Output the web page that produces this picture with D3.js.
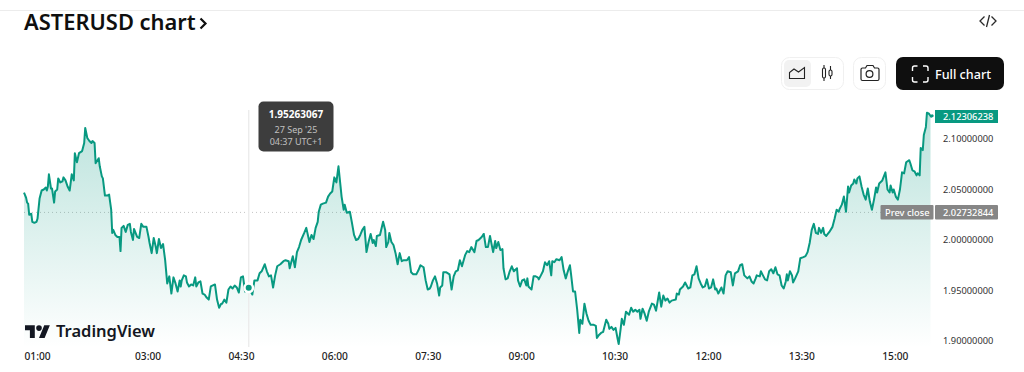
<!DOCTYPE html>
<html>
<head>
<meta charset="utf-8">
<script src="https://cdn.jsdelivr.net/npm/d3@7/dist/d3.min.js"></script>
<style>
html,body{margin:0;padding:0;background:#fff;overflow:hidden}
svg{display:block;font-family:"Noto Sans",sans-serif}
</style>
</head>
<body>
<svg id="c" width="1024" height="372"></svg>
<script>
const minutes = [0,2,3,4,5,7,8,10,12,13,15,17,19,21,22,23,24,26,27,29,30,32,33,35,37,38,40,42,44,46,48,49,51,53,56,58,59,61,63,65,66,68,69,72,73,75,76,78,80,82,84,85,86,88,90,92,93,94,96,98,100,102,103,105,106,109,111,113,115,118,120,121,123,125,127,128,130,132,134,136,138,140,142,144,146,148,150,
151,152,154,156,157,159,161,163,165,166,168,170,172,174,176,178,180,182,184,186,188,190,191,193,195,197,199,201,203,205,207,209,211,213,215,217,219,220,222,225,227,229,232,234,236,238,240,242,244,247,250,252,255,256,259,261,263,265,267,270,272,275,277,279,281,283,284,286,288,291,293,295,297,299,301,303,305,306,308,309,311,314,316,318,320,322,324,
326,328,330,332,334,336,337,339,340,343,346,348,349,351,352,354,356,358,360,362,364,366,369,371,373,375,378,380,382,385,387,389,391,392,394,396,398,400,401,403,404,407,410,412,414,416,418,420,422,425,427,429,431,434,436,438,441,443,445,447,449,452,454,455,457,459,461,462,464,466,468,470,472,475,476,478,480,482,484,485,486,489,491,
493,495,496,498,500,502,504,506,508,509,511,513,516,518,520,522,524,526,527,529,531,533,535,536,538,540,542,544,546,549,551,552,554,556,558,561,563,564,566,568,570,572,573,575,576,578,580,582,583,585,587,589,591,593,594,596,598,600,602,605,607,609,612,614,616,618,620,622,624,628,629,631,632,635,637,640,642,644,646,648,650,652,654,656,658,660,662,664,666,667,669,671,
672,674,676,678,681,683,685,688,690,692,694,697,699,701,703,705,706,709,710,712,714,716,718,720,722,724,726,728,730,732,734,735,736,738,740,741,743,746,748,751,753,755,757,759,761,763,765,766,768,770,771,773,776,779,781,
783,785,786,788,790,792,794,795,797,799,800,802,803,805,807,809,811,813,815,817,819,821,822,824,827,830,832,834,835,837,838,840,842,844,846,848,850,853,854,856,858,860,861,863,864,866,867,869,870,872,874,875];
const prices = [2.047,2.042,2.037,2.036,2.025,2.026,2.018,2.017,2.018,2.021,2.041,2.049,2.050,2.052,2.049,2.053,2.065,2.051,2.051,2.037,2.048,2.050,2.061,2.057,2.058,2.062,2.059,2.053,2.049,2.065,2.059,2.086,2.077,2.086,2.088,2.096,2.111,2.101,2.098,2.096,2.098,2.096,2.076,2.081,2.073,2.063,2.061,2.044,2.044,2.045,2.030,2.007,2.010,2.005,2.003,2.003,1.989,2.012,2.014,2.008,2.015,2.016,2.008,2.000,2.011,2.003,2.002,2.016,2.013,2.013,2.003,1.997,1.987,2.002,1.993,1.987,2.001,1.992,1.996,1.980,1.957,1.964,1.947,1.963,1.957,1.949,1.960,
1.954,1.960,1.965,1.964,1.958,1.954,1.956,1.955,1.963,1.954,1.958,1.959,1.947,1.946,1.943,1.941,1.954,1.955,1.956,1.941,1.933,1.937,1.937,1.941,1.938,1.951,1.954,1.952,1.955,1.953,1.948,1.963,1.964,1.949,1.952,1.95263,1.948,1.946,1.960,1.960,1.967,1.969,1.976,1.969,1.964,1.965,1.953,1.965,1.974,1.976,1.979,1.980,1.979,1.972,1.984,1.973,1.988,1.993,2.000,2.007,2.012,1.998,2.005,2.001,2.012,2.018,2.028,2.035,2.036,2.037,2.043,2.046,2.048,2.062,2.057,2.073,2.053,2.043,2.030,2.035,2.027,2.028,2.017,2.005,2.000,2.001,2.005,
2.010,2.013,1.988,1.998,2.006,1.997,2.000,1.994,2.004,2.005,2.018,2.010,1.993,1.998,2.007,1.998,1.995,1.987,1.976,1.987,1.979,1.980,1.980,1.983,1.968,1.966,1.966,1.970,1.975,1.973,1.960,1.951,1.952,1.954,1.960,1.964,1.957,1.945,1.953,1.955,1.968,1.968,1.966,1.951,1.964,1.969,1.970,1.980,1.974,1.985,1.989,1.988,1.993,1.988,1.999,2.000,2.003,2.006,1.993,1.993,2.004,1.988,1.999,1.992,1.998,1.990,1.991,1.972,1.961,1.962,1.969,1.974,1.969,1.972,1.960,1.954,1.960,1.961,1.955,1.962,1.954,1.951,1.964,
1.964,1.963,1.961,1.965,1.969,1.978,1.975,1.979,1.965,1.979,1.978,1.981,1.980,1.983,1.970,1.962,1.969,1.975,1.967,1.949,1.949,1.931,1.908,1.921,1.917,1.937,1.927,1.920,1.916,1.916,1.915,1.903,1.906,1.908,1.909,1.921,1.917,1.912,1.914,1.911,1.913,1.902,1.897,1.913,1.922,1.916,1.929,1.927,1.926,1.933,1.929,1.931,1.929,1.931,1.922,1.932,1.927,1.920,1.929,1.937,1.936,1.930,1.948,1.934,1.945,1.940,1.942,1.938,1.940,1.941,1.947,1.946,1.951,1.954,1.958,1.952,1.953,1.965,1.966,1.974,1.962,1.957,1.953,1.954,1.961,1.952,1.953,1.961,1.951,1.952,1.947,1.951,
1.953,1.947,1.965,1.969,1.968,1.955,1.967,1.969,1.975,1.976,1.965,1.962,1.964,1.959,1.957,1.962,1.965,1.964,1.969,1.965,1.961,1.960,1.969,1.971,1.967,1.973,1.966,1.965,1.955,1.952,1.959,1.966,1.960,1.969,1.965,1.958,1.962,1.969,1.982,1.983,1.984,1.988,1.997,2.010,2.016,2.007,2.006,2.012,2.007,2.012,2.006,2.004,2.008,2.013,2.021,
2.030,2.028,2.031,2.035,2.043,2.028,2.053,2.047,2.054,2.056,2.060,2.056,2.061,2.063,2.053,2.045,2.040,2.051,2.038,2.030,2.040,2.052,2.047,2.056,2.059,2.067,2.050,2.047,2.054,2.047,2.050,2.043,2.040,2.050,2.067,2.066,2.077,2.079,2.076,2.069,2.068,2.064,2.066,2.064,2.091,2.089,2.104,2.112,2.126,2.125,2.122,2.123];
const yTicks = [1.90,1.95,2.00,2.05,2.10];
const xTickMinutes = [0,120,210,300,390,480,570,660,750,840];
const xTickLabels = ["01:00","03:00","04:30","06:00","07:30","09:00","10:30","12:00","13:30","15:00"];
const prevClose = 2.02732844;
const lastPrice = 2.12306238;
const hoverMinute = 217;
const hoverPrice = 1.95263067;

const svg = d3.select("#c");
const x = d3.scaleLinear().domain([0,840]).range([24,895.8]);
const y = d3.scaleLinear().domain([1.90,2.10]).range([341,139]);
const pts = minutes.map((m,i)=>({m,p:prices[i]}));
const GREEN = "#089981";

const defs = svg.append("defs");
const g = defs.append("linearGradient").attr("id","fill").attr("gradientUnits","userSpaceOnUse")
  .attr("x1",0).attr("x2",0).attr("y1",112).attr("y2",348);
g.append("stop").attr("offset",0).attr("stop-color",GREEN).attr("stop-opacity",.28);
g.append("stop").attr("offset",1).attr("stop-color",GREEN).attr("stop-opacity",0);
defs.append("clipPath").attr("id","plot").append("rect").attr("x",24).attr("y",100).attr("width",906.5).attr("height",250);

// header rule
svg.append("rect").attr("x",0).attr("y",10).attr("width",1024).attr("height",1).attr("fill","#ececec");

// title
svg.append("text").attr("x",24).attr("y",30).attr("font-size",21.9).attr("font-weight",600).attr("fill","#0f0f0f").text("ASTERUSD chart");
svg.append("path").attr("d","M200.5 18.5l5 5-5 5").attr("fill","none").attr("stroke","#0f0f0f").attr("stroke-width",2.2);

// code icon
svg.append("path").attr("d","M984.5 16.5l-4.5 4.5 4.5 4.5M991.500 16.500l4.500 4.500-4.500 4.500M989.500 15l-3 12")
  .attr("fill","none").attr("stroke","#2a2a2a").attr("stroke-width",1.3);

// buttons
svg.append("rect").attr("x",781.5).attr("y",57.5).attr("width",62).attr("height",32).attr("rx",8).attr("fill","#fff").attr("stroke","#f0f0f0");
svg.append("rect").attr("x",784).attr("y",60).attr("width",27).attr("height",27).attr("rx",5).attr("fill","#f2f2f2");
svg.append("path").attr("d","M789.500 78.500v-6l4.500-3.500 4.500 3 6-4.500v11z").attr("fill","none").attr("stroke","#222").attr("stroke-width",1.1);
svg.append("path").attr("d","M824 65v3M824 78v3M830.500 66v4M830.500 76v3").attr("stroke","#222").attr("stroke-width",1.1);
svg.append("rect").attr("x",822.500).attr("y",68).attr("width",3).attr("height",10).attr("rx",1.500).attr("fill","none").attr("stroke","#222").attr("stroke-width",1.1);
svg.append("rect").attr("x",829).attr("y",70).attr("width",3).attr("height",6).attr("rx",1.500).attr("fill","none").attr("stroke","#222").attr("stroke-width",1.1);
svg.append("rect").attr("x",853.500).attr("y",57.500).attr("width",32).attr("height",32).attr("rx",8).attr("fill","#fff").attr("stroke","#f0f0f0");
svg.append("path").attr("d","M862.500 68h3l1.500-2.500h6l1.500 2.500h3q1.500 0 1.500 1.500v9.500q0 1.500-1.500 1.500h-15q-1.500 0-1.500-1.500v-9.500q0-1.500 1.500-1.500z").attr("fill","none").attr("stroke","#222").attr("stroke-width",1.2);
svg.append("circle").attr("cx",869.500).attr("cy",74).attr("r",3.400).attr("fill","none").attr("stroke","#222").attr("stroke-width",1.2);
svg.append("rect").attr("x",896).attr("y",57).attr("width",108).attr("height",33).attr("rx",7).attr("fill","#0f0f0f");
svg.append("path").attr("d","M912.500 71v-3q0-2 2-2h3M923 66h3q2 0 2 2v3M928 77v3q0 2-2 2h-3M917.500 82h-3q-2 0-2-2v-3").attr("fill","none").attr("stroke","#fff").attr("stroke-width",1.4);
svg.append("text").attr("x",935).attr("y",79).attr("font-size",12.6).attr("font-weight",500).attr("fill","#fff").text("Full chart");

// prev close dotted line
svg.append("line").attr("x1",24).attr("x2",930).attr("y1",y(prevClose)).attr("y2",y(prevClose)).attr("stroke","#c4c4c4").attr("stroke-dasharray","1 3");

// area + line
svg.append("path").datum(pts).attr("fill","url(#fill)").attr("clip-path","url(#plot)")
  .attr("d",d3.area().x(d=>x(d.m)).y0(348).y1(d=>y(d.p)));

// crosshair
svg.append("line").attr("x1",x(hoverMinute)-0.5).attr("x2",x(hoverMinute)-0.5).attr("y1",110).attr("y2",347).attr("stroke","#ececec").attr("stroke-width",1.4);

svg.append("path").datum(pts).attr("fill","none").attr("stroke",GREEN).attr("stroke-width",2).attr("stroke-linejoin","round")
  .attr("d",d3.line().x(d=>x(d.m)).y(d=>y(d.p)));

// hover dot
svg.append("circle").attr("cx",x(hoverMinute)-0.5).attr("cy",y(hoverPrice)).attr("r",5.500).attr("fill","#fff");
svg.append("circle").attr("cx",x(hoverMinute)-0.5).attr("cy",y(hoverPrice)).attr("r",3).attr("fill",GREEN);

// logo
const logo = svg.append("g").attr("transform","translate(25,322.500) scale(.7)").attr("fill","#131722");
logo.append("path").attr("d","M14 22H7V11H0V4h14v18zM28 22h-8l7.500-18h8L28 22z");
logo.append("circle").attr("cx",20).attr("cy",8).attr("r",4);
svg.append("text").attr("x",56).attr("y",336.500).attr("font-size",16.5).attr("font-weight",600).attr("fill","#131722").text("TradingView");

// axes
const yAxis = d3.axisRight(y).tickValues(yTicks).tickSize(0).tickPadding(0).tickFormat(d=>d.toFixed(8));
const yg = svg.append("g").attr("transform","translate(943,0)").call(yAxis);
yg.select(".domain").remove();
yg.selectAll("text").attr("font-family","'Noto Sans',sans-serif").attr("font-size",9.3).attr("fill","#333");

const xAxis = d3.axisBottom(x).tickValues(xTickMinutes).tickSize(0).tickPadding(0).tickFormat((d,i)=>xTickLabels[i]);
const xg = svg.append("g").attr("transform","translate(-1,353)").call(xAxis);
xg.select(".domain").remove();
xg.selectAll("text").attr("font-family","'Noto Sans',sans-serif").attr("font-size",10.2).attr("font-weight",500).attr("fill","#222");
xg.selectAll("text").filter((d,i)=>i===0).attr("text-anchor","start").attr("dx",1);

// last price label
svg.append("rect").attr("x",935).attr("y",110).attr("width",63).attr("height",13).attr("fill",GREEN);
svg.append("text").attr("x",943).attr("y",120).attr("font-size",9.3).attr("fill","#fff").attr("font-weight",500).text(lastPrice.toFixed(8));
// end cap on line
svg.append("circle").attr("cx",x(minutes[minutes.length-1])).attr("cy",y(lastPrice)).attr("r",1.500).attr("fill",GREEN);

// prev close label
svg.append("rect").attr("x",880.500).attr("y",205).attr("width",53).attr("height",14.500).attr("rx",1).attr("fill","#868686");
svg.append("rect").attr("x",935).attr("y",205).attr("width",63).attr("height",14.500).attr("rx",1).attr("fill","#868686");
svg.append("text").attr("x",885).attr("y",216).attr("font-size",9.3).attr("fill","#fff").attr("font-weight",500).text("Prev close");
svg.append("text").attr("x",943).attr("y",216).attr("font-size",9.3).attr("fill","#fff").attr("font-weight",500).text(prevClose.toFixed(8));

// tooltip
svg.append("rect").attr("x",258.500).attr("y",101.500).attr("width",75).attr("height",50).attr("rx",5).attr("fill","#3d3d3d");
svg.append("text").attr("x",296).attr("y",118).attr("text-anchor","middle").attr("font-size",10).attr("font-weight",700).attr("fill","#fff").text(hoverPrice.toFixed(8));
svg.append("text").attr("x",296).attr("y",133).attr("text-anchor","middle").attr("font-size",9).attr("fill","#c0c0c0").text("27 Sep '25");
svg.append("text").attr("x",296).attr("y",144.500).attr("text-anchor","middle").attr("font-size",9).attr("fill","#c0c0c0").text("04:37 UTC+1");
</script>
</body>
</html>
